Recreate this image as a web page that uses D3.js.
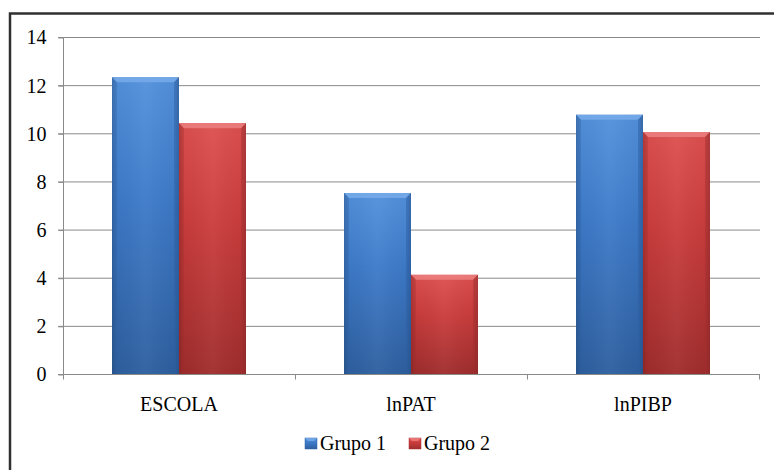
<!DOCTYPE html>
<html>
<head>
<meta charset="utf-8">
<script src="https://cdn.jsdelivr.net/npm/d3@7"></script>
<style>
html,body{margin:0;padding:0;background:#fff;}
svg{display:block;}
</style>
</head>
<body>
<svg id="chart" width="774" height="470"></svg>
<script>
const categories = ["ESCOLA", "lnPAT", "lnPIBP"];
const seriesNames = ["Grupo 1", "Grupo 2"];
const grupo1 = [12.33, 7.52, 10.77];
const grupo2 = [10.42, 4.12, 10.05];
const yTicks = [0, 2, 4, 6, 8, 10, 12, 14];

(function(){
const FONT = "'Liberation Serif', Tinos, 'Times New Roman', 'DejaVu Serif', serif";
const svg = d3.select("#chart");
const W = 774, H = 470;
const pLeft = 63, pRight = 759, pTop = 37, pBottom = 374;

const colors = {
  "Grupo 1": {top:"#5391dc", mid:"#3e7bca", bot:"#2e5f9f", bevel:"#78abea", edge:"#2f62a6"},
  "Grupo 2": {top:"#de5050", mid:"#cb3d3d", bot:"#a02d2d", bevel:"#ec8080", edge:"#a83030"}
};

const defs = svg.append("defs");
seriesNames.forEach((s,i)=>{
  const c = colors[s];
  const g = defs.append("linearGradient").attr("id","gv"+i).attr("x1",0).attr("y1",0).attr("x2",0).attr("y2",1);
  g.append("stop").attr("offset","0%").attr("stop-color",c.top);
  g.append("stop").attr("offset","40%").attr("stop-color",c.mid);
  g.append("stop").attr("offset","100%").attr("stop-color",c.bot);
});
const gh = defs.append("linearGradient").attr("id","gh").attr("x1",0).attr("y1",0).attr("x2",1).attr("y2",0);
gh.append("stop").attr("offset","0%").attr("stop-color","#000").attr("stop-opacity",0.2);
gh.append("stop").attr("offset","8%").attr("stop-color","#000").attr("stop-opacity",0.03);
gh.append("stop").attr("offset","50%").attr("stop-color","#fff").attr("stop-opacity",0.04);
gh.append("stop").attr("offset","92%").attr("stop-color","#000").attr("stop-opacity",0.03);
gh.append("stop").attr("offset","100%").attr("stop-color","#000").attr("stop-opacity",0.22);

// outer border
svg.append("rect").attr("x",10).attr("y",13.5).attr("width",W).attr("height",H)
  .attr("fill","none").attr("stroke","#303030").attr("stroke-width",2.5);

const y = d3.scaleLinear().domain([0,14]).range([pBottom, pTop]);
const x = d3.scaleBand().domain(categories).range([pLeft, pRight]).padding(0);
const bw = x.bandwidth();
const xs = d3.scaleBand().domain(seriesNames).range([bw*0.2112, bw*0.7888]).padding(0);

// gridlines
svg.append("g").selectAll("line").data(yTicks.filter(d=>d>0)).join("line")
  .attr("x1",58).attr("x2",760).attr("y1",d=>y(d)+0.5).attr("y2",d=>y(d)+0.5)
  .attr("stroke","#8a8a8a").attr("stroke-width",1);

// y axis
const yAxis = d3.axisLeft(y).tickValues(yTicks).tickSize(5).tickPadding(12).tickFormat(d3.format("d"));
const gy = svg.append("g").attr("transform",`translate(${pLeft+0.5},0.5)`).call(yAxis);
gy.attr("font-family", null).attr("font-size", null);
gy.select(".domain").attr("stroke","#8a8a8a").attr("d",`M-5,${pTop}H0V${pBottom}`);
gy.selectAll(".tick line").attr("stroke","#8a8a8a");
gy.selectAll(".tick text").style("font-size","20px").style("font-family",FONT).attr("fill","#000");

// bars
const data = [];
categories.forEach((c,ci)=>{
  data.push({cat:c, s:seriesNames[0], si:0, v:grupo1[ci]});
  data.push({cat:c, s:seriesNames[1], si:1, v:grupo2[ci]});
});
const gb = svg.append("g");
data.forEach(d=>{
  const x0 = x(d.cat) + xs(d.s);
  const w = xs.bandwidth();
  const y0 = y(d.v), h = y(0) - y(d.v);
  const c = colors[d.s];
  const g = gb.append("g");
  g.append("rect").attr("x",x0).attr("y",y0).attr("width",w).attr("height",h).attr("fill",`url(#gv${d.si})`);
  g.append("rect").attr("x",x0).attr("y",y0).attr("width",w).attr("height",h).attr("fill","url(#gh)");
  const b = 5;
  g.append("path").attr("d",`M${x0},${y0}H${x0+w}L${x0+w-b},${y0+b}H${x0+b}Z`).attr("fill",c.bevel).attr("opacity",0.85);
  g.append("path").attr("d",`M${x0},${y0}L${x0+b},${y0+b}V${y0+h}H${x0}Z`).attr("fill",c.edge).attr("opacity",0.3);
  g.append("path").attr("d",`M${x0+w},${y0}L${x0+w-b},${y0+b}V${y0+h}H${x0+w}Z`).attr("fill",c.edge).attr("opacity",0.45);
});

// x axis
const xAxis = d3.axisBottom(x).tickSize(0).tickPadding(22);
const gx = svg.append("g").attr("transform",`translate(0,${pBottom+0.5})`).call(xAxis);
gx.attr("font-family", null).attr("font-size", null);
gx.select(".domain").attr("stroke","#8a8a8a").attr("d",`M${pLeft-5},0H${pRight+1}`);
gx.selectAll(".tick text").style("font-size","20px").style("font-family",FONT).attr("fill","#000");
const bounds = categories.map(c=>x(c)).concat([x(categories[categories.length-1])+bw]);
gx.append("g").selectAll("line").data(bounds).join("line")
  .attr("x1",d=>Math.round(d)+0.5).attr("x2",d=>Math.round(d)+0.5).attr("y1",0).attr("y2",5)
  .attr("stroke","#8a8a8a");

// legend
const legendX = [305, 409];
const lg = svg.append("g");
seriesNames.forEach((s,i)=>{
  const c = colors[s];
  lg.append("rect").attr("x",legendX[i]).attr("y",438).attr("width",12).attr("height",11)
    .attr("fill",`url(#gv${i})`).attr("stroke",c.edge).attr("stroke-width",0.5);
  lg.append("path").attr("d",`M${legendX[i]},438h12l-3,3h-6z`).attr("fill",c.bevel).attr("opacity",0.8);
  lg.append("text").attr("x",legendX[i]+15).attr("y",450)
    .style("font-size","20px").style("font-family",FONT).attr("fill","#000").text(s);
});
})();
</script>
</body>
</html>
